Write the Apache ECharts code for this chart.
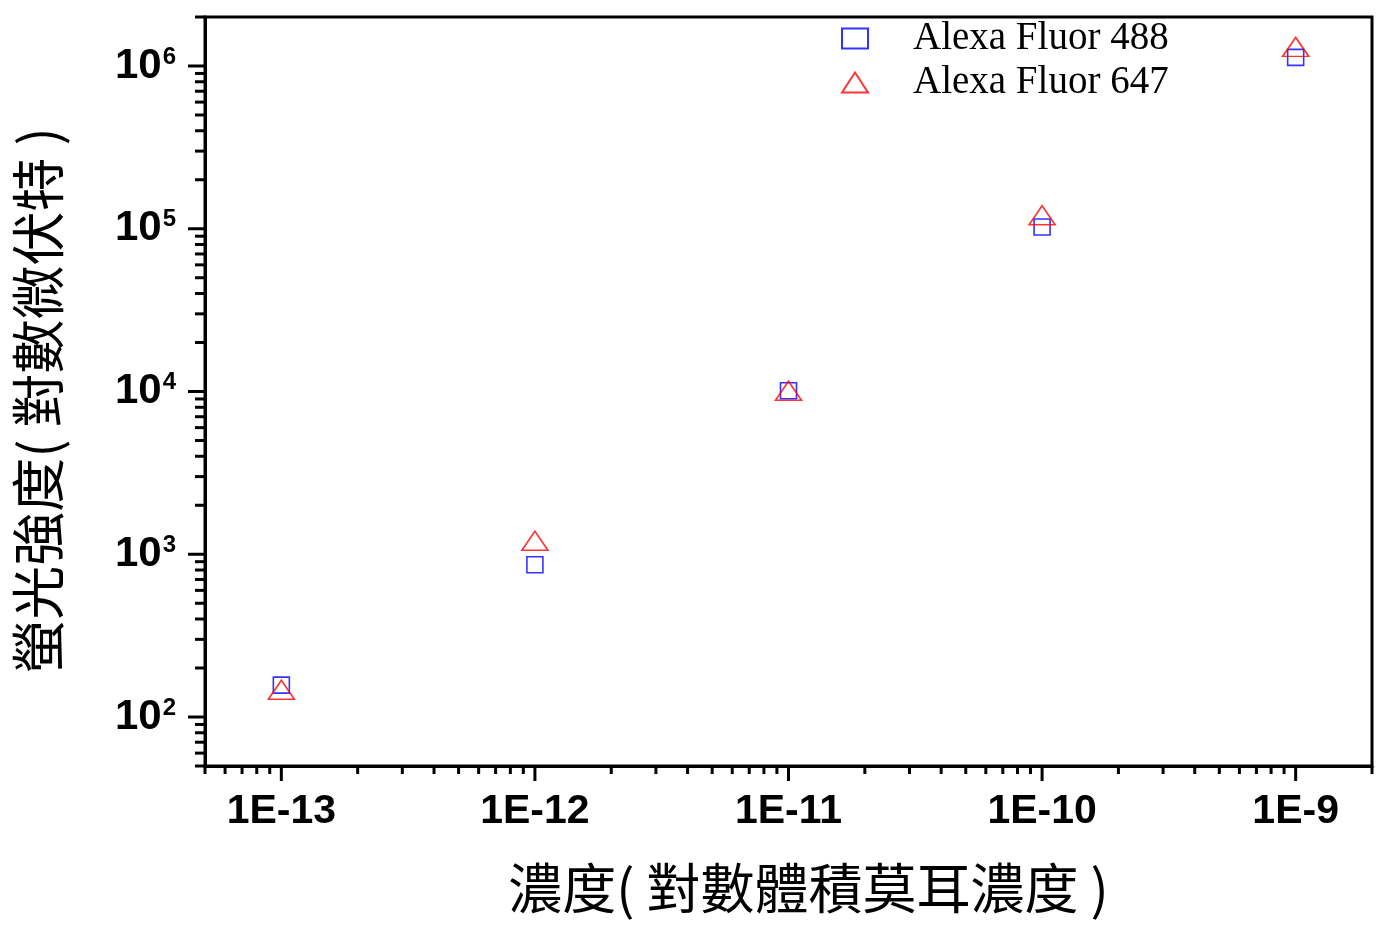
<!DOCTYPE html>
<html><head><meta charset="utf-8">
<script src="https://cdn.jsdelivr.net/npm/echarts@6/dist/echarts.min.js"></script>
<style>html,body{margin:0;padding:0;background:#fff}#c{width:1387px;height:927px}</style>
</head><body><div id="c"></div>
<script>
const concentrations = [1e-13, 1e-12, 1e-11, 1e-10, 1e-9];
const alexa488 = [157, 862, 10100, 102600, 1130000];
const alexa647 = [147, 1210, 10100, 121000, 1310000];
const seriesNames = ['Alexa Fluor 488', 'Alexa Fluor 647'];
const xMajorTicks = [1e-13, 1e-12, 1e-11, 1e-10, 1e-9];
const xTickLabels = ['1E-13', '1E-12', '1E-11', '1E-10', '1E-9'];
const yMajorTicks = [1e2, 1e3, 1e4, 1e5, 1e6];
const yTickExponents = ['2', '3', '4', '5', '6'];
const xRange = [5e-14, 2e-9];
const yRange = [50, 2e6];
const xTitle = '濃度( 對數體積莫耳濃度 )';
const yTitle = '螢光強度( 對數微伏特 )';

function minorTicks(range) {
  const out = [];
  const e0 = Math.floor(Math.log10(range[0])), e1 = Math.ceil(Math.log10(range[1]));
  for (let e = e0; e <= e1; e++) {
    for (let k = 2; k <= 9; k++) {
      const v = k * Math.pow(10, e);
      if (v >= range[0] * 0.999 && v <= range[1] * 1.001) out.push(v);
    }
  }
  return out;
}

const xTickData = xMajorTicks.map(v => [v, yRange[0], 1]).concat(minorTicks(xRange).map(v => [v, yRange[0], 0]));
const yTickData = yMajorTicks.map(v => [xRange[0], v, 1]).concat(minorTicks(yRange).map(v => [xRange[0], v, 0]));

const chart = echarts.init(document.getElementById('c'), null, {renderer: 'canvas'});
const option = {
  backgroundColor: '#fff',
  animation: false,
  grid: {left: 205, right: 15, top: 17, bottom: 161, show: true, borderColor: '#000', borderWidth: 3, backgroundColor: 'transparent'},
  legend: {
    orient: 'vertical', left: 836, top: 14, itemWidth: 26, itemHeight: 20, itemGap: 5,
    data: seriesNames,
    textStyle: {fontFamily: 'Liberation Serif', fontSize: 39, color: '#000', padding: [0, 0, 0, 40]}
  },
  xAxis: {
    type: 'log', logBase: 10, min: xRange[0], max: xRange[1],
    name: xTitle, nameLocation: 'middle', nameGap: 95,
    nameTextStyle: {fontFamily: 'Noto Sans CJK TC', fontSize: 54, color: '#000', padding: [0, 0, 0, 40]},
    axisLine: {lineStyle: {color: '#000', width: 3}},
    axisTick: {show: false},
    splitLine: {show: false},
    axisLabel: {
      margin: 25, color: '#000', fontFamily: 'Liberation Sans', fontWeight: 'bold', fontSize: 41,
      showMinLabel: false, showMaxLabel: false,
      formatter: function (v) {
        const i = xMajorTicks.findIndex(m => Math.abs(v / m - 1) < 1e-6);
        return i >= 0 ? xTickLabels[i] : '';
      }
    }
  },
  yAxis: {
    type: 'log', logBase: 10, min: yRange[0], max: yRange[1],
    name: yTitle, nameLocation: 'middle', nameGap: 140, nameRotate: 90,
    nameTextStyle: {fontFamily: 'Noto Sans CJK TC', fontSize: 54, color: '#000', padding: [0, 18, 0, 0]},
    axisLine: {lineStyle: {color: '#000', width: 3}},
    axisTick: {show: false},
    splitLine: {show: false},
    axisLabel: {
      margin: 29, color: '#000',
      showMinLabel: false, showMaxLabel: false,
      formatter: function (v) {
        const i = yMajorTicks.findIndex(m => Math.abs(v / m - 1) < 1e-6);
        return i >= 0 ? '{b|10}{s|' + yTickExponents[i] + '}' : '';
      },
      rich: {
        b: {fontFamily: 'Liberation Sans', fontWeight: 'bold', fontSize: 42, color: '#000'},
        s: {fontFamily: 'Liberation Sans', fontWeight: 'bold', fontSize: 24, color: '#000', verticalAlign: 'top', padding: [0, 0, 10, 1]}
      }
    }
  },
  series: [
    {
      name: seriesNames[0], type: 'scatter', symbol: 'rect', symbolSize: 16, z: 3,
      itemStyle: {color: 'rgba(255,255,255,0)', borderColor: '#0000ff', borderWidth: 1.6},
      data: concentrations.map((x, i) => [x, alexa488[i]])
    },
    {
      name: seriesNames[1], type: 'scatter', symbol: 'triangle', symbolSize: [26, 19], z: 4,
      itemStyle: {color: 'rgba(255,255,255,0)', borderColor: '#ff0000', borderWidth: 1.6},
      data: concentrations.map((x, i) => [x, alexa647[i]])
    },
    {
      type: 'custom', silent: true, clip: false, z: 6,
      data: xTickData,
      renderItem: function (params, api) {
        const p = api.coord([api.value(0), api.value(1)]);
        const cs = params.coordSys;
        const y0 = cs.y + cs.height;
        const len = api.value(2) ? 15 : 8;
        return {type: 'line', shape: {x1: p[0], y1: y0, x2: p[0], y2: y0 + len}, style: {stroke: '#000', lineWidth: 3}};
      }
    },
    {
      type: 'custom', silent: true, clip: false, z: 6,
      data: yTickData,
      renderItem: function (params, api) {
        const p = api.coord([api.value(0), api.value(1)]);
        const cs = params.coordSys;
        const x0 = cs.x;
        const len = api.value(2) ? 17 : 10;
        return {type: 'line', shape: {x1: x0, y1: p[1], x2: x0 - len, y2: p[1]}, style: {stroke: '#000', lineWidth: 3}};
      }
    }
  ]
};
chart.setOption(option);
</script>
</body></html>
